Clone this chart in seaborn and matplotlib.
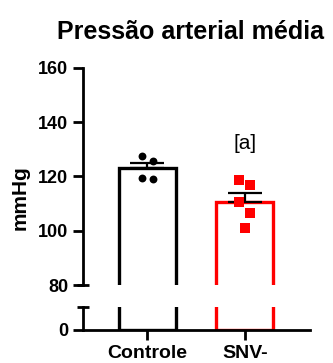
import numpy as np
import pandas as pd
import matplotlib
matplotlib.use("Agg")
import matplotlib.pyplot as plt
import seaborn as sns

# values (mmHg)
groups = ["Controle", "SNV-"]
controle = [127.6, 125.8, 119.3, 119.1]
snv = [118.7, 116.9, 110.7, 106.4, 100.9]
colors = {"Controle": "black", "SNV-": "#ff0000"}
markers = {"Controle": "o", "SNV-": "s"}
yticks_top = [80, 100, 120, 140, 160]
annot = "[a]"

sns.set_style("ticks")
plt.rcParams["font.family"] = ["Liberation Sans", "DejaVu Sans"]
plt.rcParams.update({
    "text.color": "black",
    "axes.labelcolor": "black",
    "axes.edgecolor": "black",
    "xtick.color": "black",
    "ytick.color": "black",
})

df = pd.DataFrame({
    "grupo": ["Controle"] * len(controle) + ["SNV-"] * len(snv),
    "mmHg": controle + snv,
})
stats = df.groupby("grupo", sort=False)["mmHg"].agg(["mean", "sem"]).reindex(groups)

W, H = 333, 363
fig = plt.figure(figsize=(W / 100, H / 100), dpi=100)
left, right = 82.7 / W, 310 / W
ax_top = fig.add_axes([left, 1 - 285 / H, right - left, (285 - 68) / H])
ax_bot = fig.add_axes([left, 1 - 330 / H, right - left, 23 / H])

lw = 2.0
for ax in (ax_top, ax_bot):
    sns.barplot(data=df, x="grupo", y="mmHg", hue="grupo", order=groups,
                hue_order=groups, palette=colors, errorbar=None, fill=False,
                width=0.59, linewidth=2.4, legend=False, ax=ax)
    ax.set_xlim(-0.663, 1.670)
    ax.set_xlabel("")
    ax.set_ylabel("")
    for s in ("top", "right"):
        ax.spines[s].set_visible(False)
    for s in ("left", "bottom"):
        ax.spines[s].set_linewidth(lw)
    ax.tick_params(width=lw, length=7, labelsize=13)

# error bars (upper only) and individual points on the top panel
for i, g in enumerate(groups):
    m, s = stats.loc[g, "mean"], stats.loc[g, "sem"]
    ax_top.errorbar(i, m, yerr=[[0], [s]], color="black", capsize=12,
                    elinewidth=1.6, capthick=1.6, zorder=4)
    vals = df.loc[df["grupo"] == g, "mmHg"].to_numpy()
    n = len(vals)
    offs = np.array([(-0.055 if k % 2 == 0 else 0.055) for k in range(n)])
    if n % 2 == 1:
        offs[-1] = 0.0
    ax_top.scatter(i + offs, vals, marker=markers[g], color=colors[g],
                   s=44 if g == "SNV-" else 32, linewidths=0, zorder=5)

ax_top.set_ylim(80, 160)
ax_top.set_yticks(yticks_top)
ax_top.spines["bottom"].set_visible(False)
ax_top.tick_params(axis="x", bottom=False, labelbottom=False)

ax_bot.set_ylim(0, 10)
ax_bot.set_yticks([0])
ax_bot.tick_params(axis="x", length=7, pad=4, labelsize=14)

for ax in (ax_top, ax_bot):
    for lab in ax.get_yticklabels() + ax.get_xticklabels():
        lab.set_fontweight("bold")

# break caps on the y axis
cap = 6 / (W * (right - left))
ax_top.plot([-cap, cap], [0, 0], transform=ax_top.transAxes, color="black",
            lw=lw, clip_on=False, solid_capstyle="butt")
ax_bot.plot([-cap, cap], [1, 1], transform=ax_bot.transAxes, color="black",
            lw=lw, clip_on=False, solid_capstyle="butt")

ax_top.text(1, 132, annot, ha="center", va="center", fontsize=15)

fig.text(191 / W, 1 - 39.3 / H, "Pressão arterial média", ha="center",
         va="baseline", fontsize=18, fontweight="bold")
fig.text(20.5 / W, 1 - 198 / H, "mmHg", rotation=90, ha="center",
         va="center", fontsize=15, fontweight="bold")

fig.savefig("out.png", dpi=100)
